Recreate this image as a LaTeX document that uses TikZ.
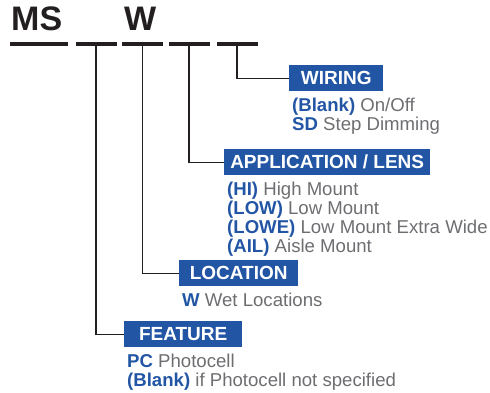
\documentclass[tikz,border=0pt]{standalone}
\usepackage{fontspec}
\setmainfont{Liberation Sans}
\usetikzlibrary{positioning}
\definecolor{msblue}{HTML}{2256A5}
\definecolor{msgray}{HTML}{6D6E71}
\definecolor{msline}{HTML}{231F20}
\tikzset{%
  % Specifications for style of nodes:
  code/.style={font=\fontsize{34}{34}\selectfont\bfseries, text=msline, inner sep=0, anchor=base west},
  slot/.style={fill=msline, minimum width=41pt, minimum height=4pt, inner sep=0, outer sep=0},
  head/.style={fill=msblue, text=white, font=\fontsize{19}{19}\selectfont\bfseries, minimum height=26pt, inner sep=0, anchor=north west},
  opts/.style={text=msgray, font=\fontsize{18.6}{19}\selectfont, align=left, inner sep=0},
  link/.style={draw=msline, line width=1.1pt},
}
\newcommand{\optkey}[1]{\textcolor{msblue}{\bfseries #1}}

\begin{document}
\begin{tikzpicture}[x=1pt,y=-1pt]
    \useasboundingbox (0,0) rectangle (490,392);
    % code letters and blanks
    \node[code] (ms) at (11,30) {MS};
    \node[code] (w) at (124,30) {W};
    \node[slot, minimum width=58pt] (s1) at (39,44) {};
    \node[slot] (s2) at (96,44) {};
    \node[slot] (s3) at (142.5,44) {};
    \node[slot] (s4) at (189,44) {};
    \node[slot] (s5) at (237,44) {};
    % option groups
    \node[head, minimum width=94pt] (wiring) at (289,65) {WIRING};
    \node[opts, below right=6pt and 3pt of wiring.south west]
      (wiringopts) {\optkey{(Blank)} On/Off\\ \optkey{SD} Step Dimming};
    \node[head, minimum width=206pt] (lens) at (224,149) {APPLICATION / LENS};
    \node[opts, below right=6pt and 3pt of lens.south west]
      (lensopts) {\optkey{(HI)} High Mount\\ \optkey{(LOW)} Low Mount\\
        \optkey{(LOWE)} Low Mount Extra Wide\\ \optkey{(AIL)} Aisle Mount};
    \node[head, minimum width=119pt] (location) at (179,260) {LOCATION};
    \node[opts, below right=6pt and 3pt of location.south west]
      (locationopts) {\optkey{W} Wet Locations};
    \node[head, minimum width=118pt] (feature) at (124,321) {FEATURE};
    \node[opts, below right=6pt and 3pt of feature.south west]
      (featureopts) {\optkey{PC} Photocell\\ \optkey{(Blank)} if Photocell not specified};
    % leaders
    \draw[link] (s5.south) |- (wiring.west);
    \draw[link] (s4.south) |- (lens.west);
    \draw[link] (s3.south) |- (location.west);
    \draw[link] (s2.south) |- (feature.west);
\end{tikzpicture}
\end{document}
